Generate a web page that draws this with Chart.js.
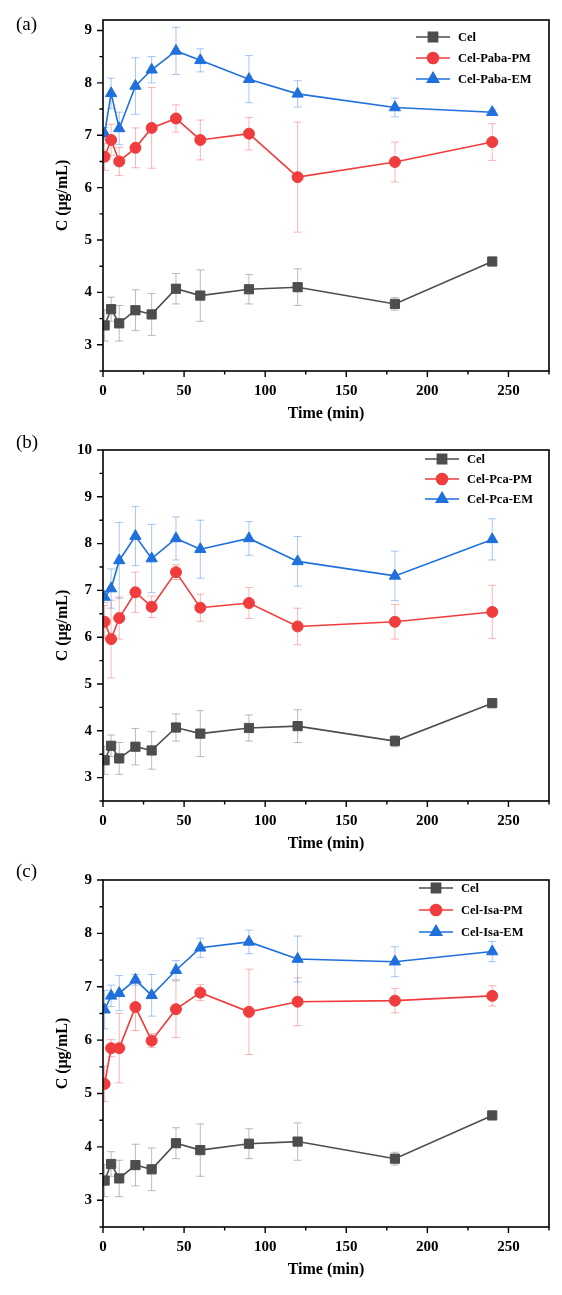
<!DOCTYPE html>
<html>
<head>
<meta charset="utf-8">
<title>Release profiles</title>
<script src="https://cdn.jsdelivr.net/npm/chart.js@4.4.1/dist/chart.umd.min.js"></script>
<style>
  html, body { margin: 0; padding: 0; background: #fff; }
  body { position: relative; width: 562px; height: 1295px; overflow: hidden; }
  canvas { position: absolute; left: 0; }
</style>
</head>
<body>
<canvas id="chartA" width="562" height="430" style="top:0px"></canvas>
<canvas id="chartB" width="562" height="430" style="top:430px"></canvas>
<canvas id="chartC" width="562" height="435" style="top:860px"></canvas>
<script>
// sampling times (min) and axis ticks
const times = [1, 5, 10, 20, 30, 45, 60, 90, 120, 180, 240];
const xTicks = [0, 50, 100, 150, 200, 250];
const xMinorTicks = [25, 75, 125, 175, 225, 275];

// Cel alone (same in all three panels)
const celMean = [3.37, 3.68, 3.41, 3.66, 3.58, 4.07, 3.94, 4.06, 4.10, 3.78, 4.59];
const celErr = [0.30, 0.23, 0.34, 0.39, 0.40, 0.29, 0.49, 0.28, 0.35, 0.12, 0.02];

// (a) Paba
const pabaPmMean = [6.59, 6.91, 6.50, 6.76, 7.14, 7.32, 6.91, 7.03, 6.20, 6.49, 6.87];
const pabaPmErr = [0.26, 0.30, 0.27, 0.38, 0.77, 0.26, 0.38, 0.31, 1.05, 0.38, 0.35];
const pabaEmMean = [7.03, 7.80, 7.13, 7.94, 8.25, 8.61, 8.43, 8.07, 7.79, 7.53, 7.44];
const pabaEmErr = [0.12, 0.29, 0.31, 0.54, 0.25, 0.45, 0.22, 0.45, 0.25, 0.18, 0.04];

// (b) Pca
const pcaPmMean = [6.33, 5.96, 6.41, 6.96, 6.65, 7.39, 6.63, 6.73, 6.23, 6.33, 6.54];
const pcaPmErr = [0.35, 0.83, 0.45, 0.43, 0.23, 0.16, 0.29, 0.33, 0.39, 0.37, 0.57];
const pcaEmMean = [6.86, 7.04, 7.64, 8.16, 7.68, 8.11, 7.88, 8.11, 7.62, 7.31, 8.09];
const pcaEmErr = [0.12, 0.42, 0.81, 0.63, 0.73, 0.46, 0.62, 0.36, 0.53, 0.53, 0.44];

// (c) Isa
const isaPmMean = [5.18, 5.85, 5.85, 6.62, 5.99, 6.58, 6.89, 6.53, 6.72, 6.74, 6.83];
const isaPmErr = [0.33, 0.16, 0.65, 0.44, 0.13, 0.53, 0.15, 0.80, 0.45, 0.23, 0.19];
const isaEmMean = [6.57, 6.83, 6.88, 7.13, 6.84, 7.31, 7.73, 7.84, 7.52, 7.47, 7.66];
const isaEmErr = [0.36, 0.20, 0.33, 0.10, 0.39, 0.18, 0.18, 0.22, 0.43, 0.28, 0.19];

// y ticks
const yTicksA = [3, 4, 5, 6, 7, 8, 9];
const yMinorA = [2.5, 3.5, 4.5, 5.5, 6.5, 7.5, 8.5];
const yTicksB = [3, 4, 5, 6, 7, 8, 9, 10];
const yMinorB = [2.5, 3.5, 4.5, 5.5, 6.5, 7.5, 8.5, 9.5];
const yTicksC = [3, 4, 5, 6, 7, 8, 9];
const yMinorC = [2.5, 3.5, 4.5, 5.5, 6.5, 7.5, 8.5];

const SERIF = "'Liberation Serif', 'Times New Roman', serif";
Chart.defaults.font.family = SERIF;
Chart.defaults.color = '#000';

const GREY = '#4d4d4d';
const RED = '#f03c3c';
const BLUE = '#1f6fdc';

function series(label, data, err, color, errColor, style, radius) {
  return {
    label: label,
    data: times.map((t, i) => ({ x: t, y: data[i] })),
    errors: err,
    errorColor: errColor,
    borderColor: color,
    backgroundColor: color,
    borderWidth: 1.6,
    pointStyle: style,
    pointRadius: radius,
    pointHoverRadius: radius,
    pointBorderWidth: 1,
    tension: 0,
    clip: { left: 0, top: false, right: false, bottom: false }
  };
}

// error bars, drawn under the lines
const errorBars = {
  id: 'errorBars',
  beforeDatasetsDraw(chart) {
    const { ctx, chartArea: a, scales: { y } } = chart;
    ctx.save();
    ctx.beginPath();
    ctx.rect(a.left, a.top, a.right - a.left, a.bottom - a.top);
    ctx.clip();
    chart.data.datasets.forEach((ds, i) => {
      const meta = chart.getDatasetMeta(i);
      ctx.strokeStyle = ds.errorColor;
      ctx.lineWidth = 1;
      meta.data.forEach((pt, j) => {
        const v = ds.data[j].y;
        const e = ds.errors[j];
        const yt = y.getPixelForValue(v + e);
        const yb = y.getPixelForValue(v - e);
        const px = pt.x;
        ctx.beginPath();
        ctx.moveTo(px, yt); ctx.lineTo(px, yb);
        ctx.moveTo(px - 4, yt); ctx.lineTo(px + 4, yt);
        ctx.moveTo(px - 4, yb); ctx.lineTo(px + 4, yb);
        ctx.stroke();
      });
    });
    ctx.restore();
  }
};

// box frame with outward major/minor ticks, legend, panel letter
const decorations = {
  id: 'decorations',
  afterDraw(chart) {
    const { ctx, chartArea: a, scales: { x, y } } = chart;
    const o = chart.options.plugins.decorations;
    ctx.save();
    ctx.strokeStyle = '#000';
    ctx.lineWidth = 1.6;
    ctx.strokeRect(a.left, a.top, a.right - a.left, a.bottom - a.top);
    ctx.lineWidth = 1.4;
    ctx.beginPath();
    xTicks.forEach(v => { const p = x.getPixelForValue(v); ctx.moveTo(p, a.bottom); ctx.lineTo(p, a.bottom + 6); });
    xMinorTicks.forEach(v => { const p = x.getPixelForValue(v); ctx.moveTo(p, a.bottom); ctx.lineTo(p, a.bottom + 3.5); });
    o.yMajor.forEach(v => { const p = y.getPixelForValue(v); ctx.moveTo(a.left, p); ctx.lineTo(a.left - 6, p); });
    o.yMinor.forEach(v => { const p = y.getPixelForValue(v); ctx.moveTo(a.left, p); ctx.lineTo(a.left - 3.5, p); });
    ctx.stroke();

    // legend
    ctx.font = 'bold 12.5px ' + SERIF;
    ctx.textBaseline = 'middle';
    ctx.textAlign = 'left';
    chart.data.datasets.forEach((ds, i) => {
      const ly = a.top + o.legendTop + i * o.legendGap;
      const lx = o.legendLeft;
      ctx.strokeStyle = ds.borderColor;
      ctx.lineWidth = 1.6;
      ctx.beginPath();
      ctx.moveTo(lx, ly); ctx.lineTo(lx + 34, ly);
      ctx.stroke();
      ctx.fillStyle = ds.backgroundColor;
      Chart.helpers.drawPoint(ctx, { pointStyle: ds.pointStyle, radius: ds.pointRadius, borderWidth: 1 }, lx + 17, ly);
      ctx.fill();
      ctx.fillStyle = '#000';
      ctx.fillText(ds.label, lx + 42, ly + 1);
    });

    // panel letter
    ctx.font = '19px ' + SERIF;
    ctx.fillStyle = '#000';
    ctx.textAlign = 'left';
    ctx.fillText(o.letter, 16, o.letterY);
    ctx.restore();
  }
};

function makePanel(id, cfg) {
  const ctx = document.getElementById(id).getContext('2d');
  return new Chart(ctx, {
    type: 'line',
    data: { datasets: cfg.datasets },
    plugins: [errorBars, decorations],
    options: {
      responsive: false,
      animation: false,
      events: [],
      layout: { padding: { top: cfg.padTop, right: 13, bottom: cfg.padBottom, left: 0 } },
      plugins: {
        legend: { display: false },
        tooltip: { enabled: false },
        decorations: {
          yMajor: cfg.yTicks, yMinor: cfg.yMinor, letter: cfg.letter, letterY: cfg.letterY,
          legendLeft: cfg.legendLeft, legendTop: cfg.legendTop, legendGap: cfg.legendGap
        }
      },
      scales: {
        x: {
          type: 'linear',
          min: 0,
          max: 275,
          afterBuildTicks: s => { s.ticks = xTicks.map(v => ({ value: v })); },
          afterFit: s => { s.height = 59; },
          grid: { display: false, drawTicks: false },
          border: { display: false },
          ticks: { padding: 11, font: { size: 15, weight: 'bold' }, maxRotation: 0 },
          title: { display: true, text: 'Time (min)', font: { size: 16, weight: 'bold' }, padding: { top: 0, bottom: 7 } }
        },
        y: {
          min: 2.5,
          max: cfg.yMax,
          afterBuildTicks: s => { s.ticks = cfg.yTicks.map(v => ({ value: v })); },
          afterFit: s => { s.width = 103; },
          grid: { display: false, drawTicks: false },
          border: { display: false },
          ticks: { padding: 11, font: { size: 15, weight: 'bold' } },
          title: { display: true, text: 'C (μg/mL)', font: { size: 16, weight: 'bold' }, padding: { top: 53, bottom: 0 } }
        }
      }
    }
  });
}

makePanel('chartA', {
  yMax: 9.2, yTicks: yTicksA, yMinor: yMinorA, padTop: 12, padBottom: 0,
  letter: '(a)', letterY: 25, legendLeft: 416, legendTop: 17, legendGap: 21,
  datasets: [
    series('Cel', celMean, celErr, GREY, 'rgba(150,150,150,0.65)', 'rect', 6.5),
    series('Cel-Paba-PM', pabaPmMean, pabaPmErr, RED, 'rgba(240,90,90,0.45)', 'circle', 5.5),
    series('Cel-Paba-EM', pabaEmMean, pabaEmErr, BLUE, 'rgba(60,130,220,0.45)', 'triangle', 6.5)
  ]
});

makePanel('chartB', {
  yMax: 10, yTicks: yTicksB, yMinor: yMinorB, padTop: 11, padBottom: 0,
  letter: '(b)', letterY: 13, legendLeft: 425, legendTop: 9, legendGap: 20,
  datasets: [
    series('Cel', celMean, celErr, GREY, 'rgba(150,150,150,0.65)', 'rect', 6.5),
    series('Cel-Pca-PM', pcaPmMean, pcaPmErr, RED, 'rgba(240,90,90,0.45)', 'circle', 5.5),
    series('Cel-Pca-EM', pcaEmMean, pcaEmErr, BLUE, 'rgba(60,130,220,0.45)', 'triangle', 6.5)
  ]
});

makePanel('chartC', {
  yMax: 9, yTicks: yTicksC, yMinor: yMinorC, padTop: 5, padBottom: 9,
  letter: '(c)', letterY: 12, legendLeft: 419, legendTop: 8, legendGap: 22,
  datasets: [
    series('Cel', celMean, celErr, GREY, 'rgba(150,150,150,0.65)', 'rect', 6.5),
    series('Cel-Isa-PM', isaPmMean, isaPmErr, RED, 'rgba(240,90,90,0.45)', 'circle', 5.5),
    series('Cel-Isa-EM', isaEmMean, isaEmErr, BLUE, 'rgba(60,130,220,0.45)', 'triangle', 6.5)
  ]
});
</script>
</body>
</html>
